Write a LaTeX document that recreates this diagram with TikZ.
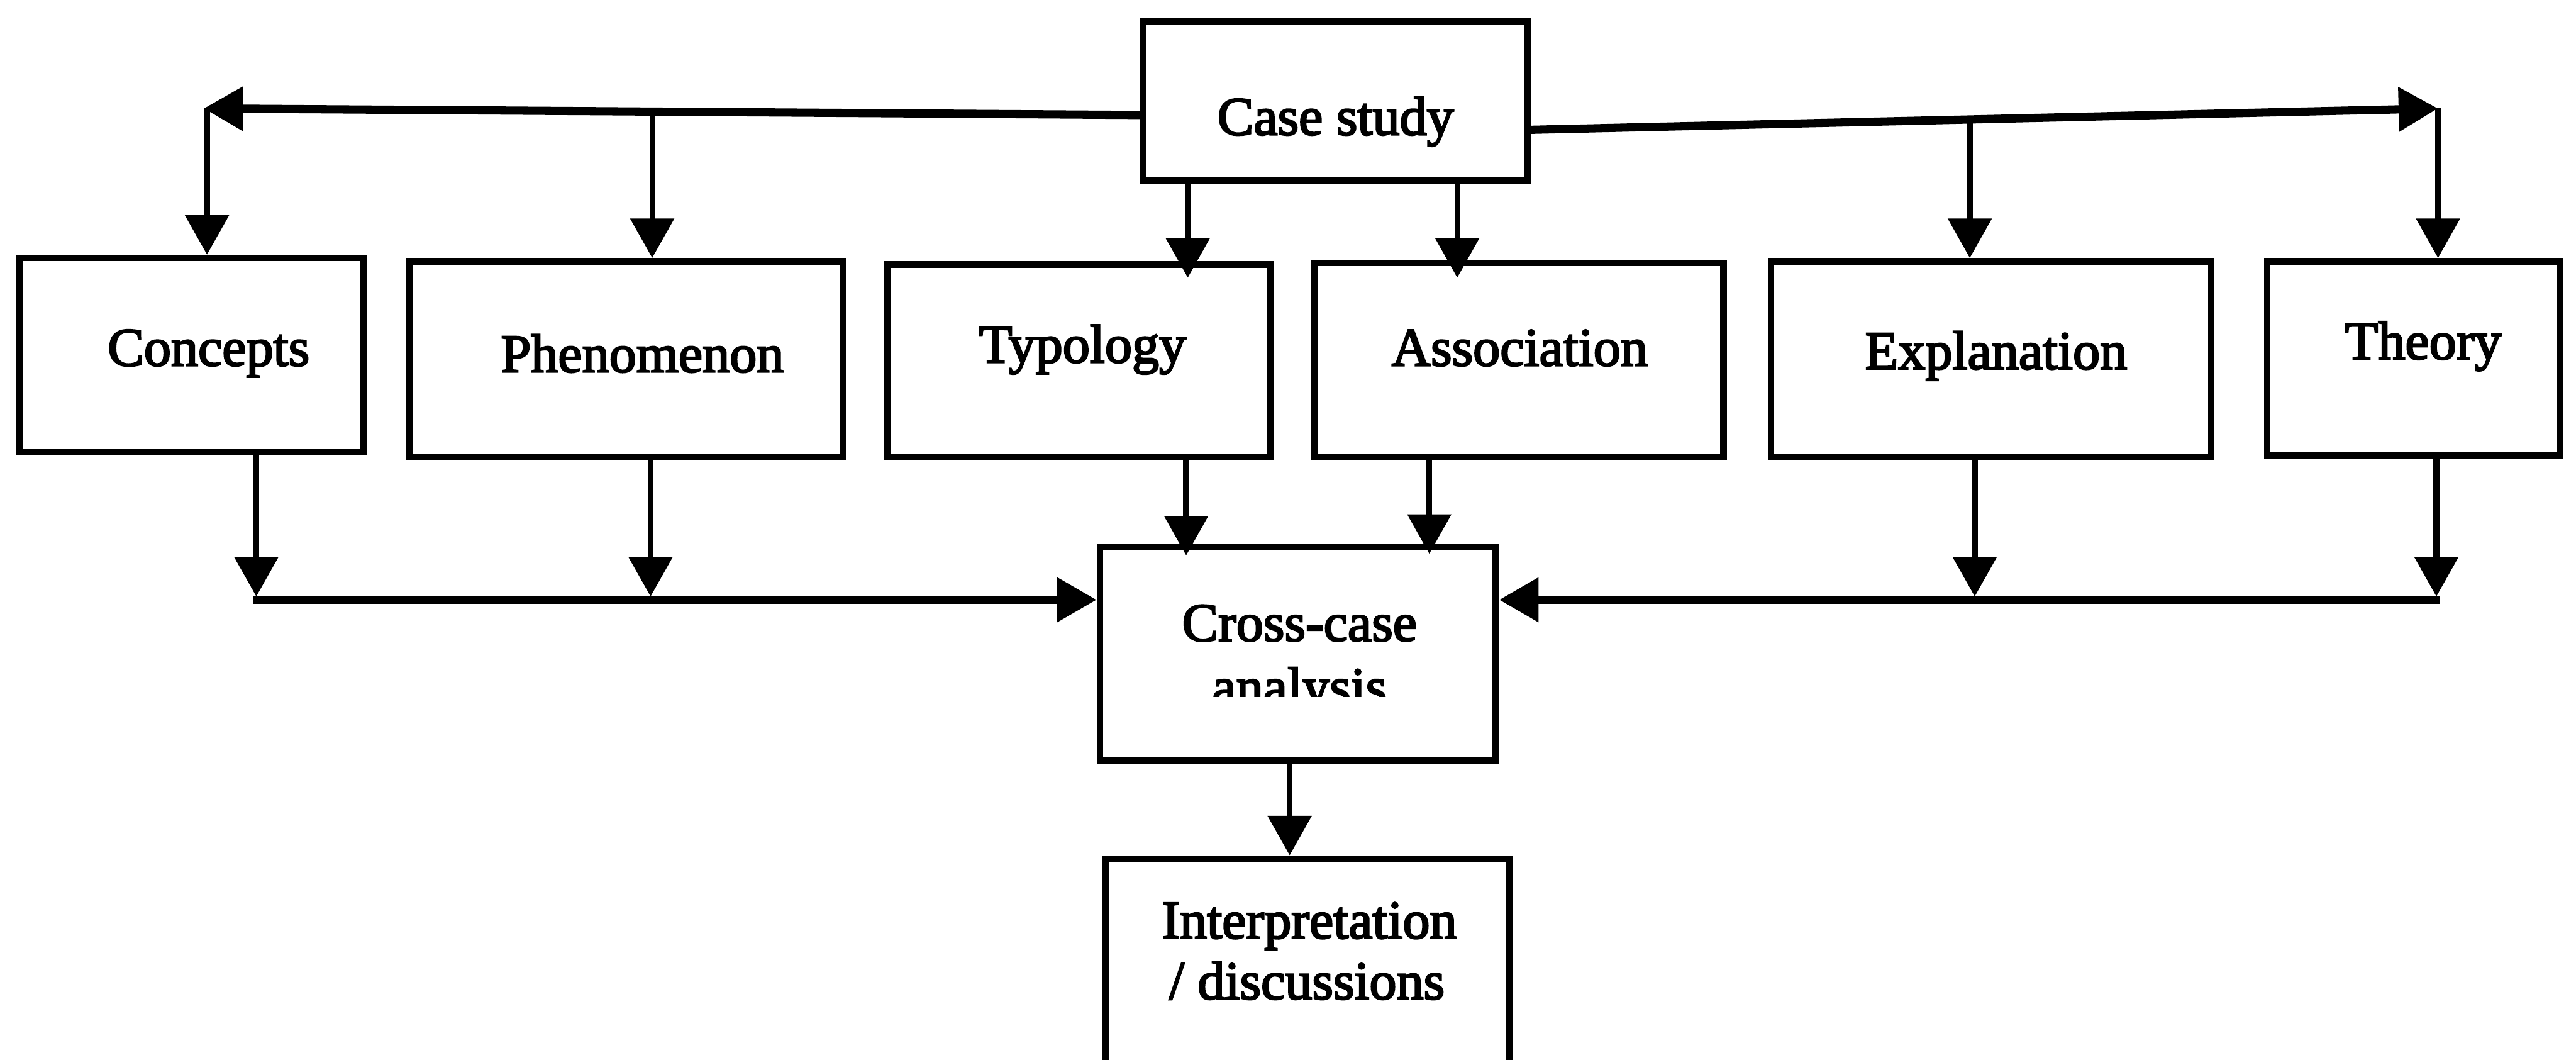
\documentclass[tikz,border=0pt]{standalone}
\usepackage{fontspec}
\setmainfont{Liberation Serif}
\newfontfamily\lblfont[FakeBold=3]{Liberation Serif}
\usetikzlibrary{arrows.meta}
\begin{document}
\begin{tikzpicture}[x=1pt,y=-1pt,
  box/.style={draw, line width=4pt, inner sep=0pt},
  lbl/.style={inner sep=0pt, anchor=base, font=\lblfont\fontsize{33}{39}\selectfont},
  feed/.style={line width=5pt, -{Triangle[length=24pt,width=26pt]}},
  drop/.style={line width=3.5pt, -{Triangle[length=24pt,width=26pt]}}]
\path[use as bounding box] (0,0) rectangle (1568,645);
\clip (0,0) rectangle (1568,645);

% boxes
\node[box, minimum width=234pt, minimum height=97pt]  (case)     at (813,61.5)  {};
\node[box, minimum width=209pt, minimum height=118pt] (concepts) at (116.5,216) {};
\node[box, minimum width=264pt, minimum height=119pt] (phenom)   at (381,218.5) {};
\node[box, minimum width=233pt, minimum height=117pt] (typology) at (656.5,219.5) {};
\node[box, minimum width=249pt, minimum height=118pt] (assoc)    at (924.5,219) {};
\node[box, minimum width=268pt, minimum height=119pt] (explan)   at (1212,218.5) {};
\node[box, minimum width=178pt, minimum height=118pt] (theory)   at (1469,218) {};
\node[box, minimum width=241pt, minimum height=130pt] (cross)    at (790,398) {};
\node[box, minimum width=246pt, minimum height=196pt] (interp)   at (796,620.5) {};

% labels
\node[lbl] (tcase)     at (813,82)     {Case study};
\node[lbl] (tconcepts) at (127,222.5)  {Concepts};
\node[lbl] (tphenom)   at (391,226.4)  {Phenomenon};
\node[lbl] (ttypology) at (659,220.6)  {Typology};
\node[lbl] (tassoc)    at (925,222.5)  {Association};
\node[lbl] (texplan)   at (1215,224.5) {Explanation};
\node[lbl] (ttheory)   at (1475,218.6) {Theory};
\node[lbl] (tcross)    at (791,390)    {Cross-case};
\begin{scope}
  \clip (600,395) rectangle (1000,424);
  \node[lbl] (tanalysis) at (791,429) {analysis};
\end{scope}
\node[lbl] (tinterp)   at (797,571)    {Interpretation};
\node[lbl] (tdisc)     at (795.5,608)  {/ discussions};

% distribution from the case study
\coordinate (lj)   at (case.west |- 0,70);
\coordinate (lend) at (124,66);
\coordinate (rj)   at (case.east |- 0,79);
\coordinate (rend) at (1484,66);
\draw[feed] (lj) -- (lend);
\draw[feed] (rj) -- (rend);

\coordinate (k1) at (126,66);
\coordinate (k2) at (397,67.9);
\coordinate (k3) at (1199,72.7);
\draw[drop] (k1) -- (k1 |- concepts.north);
\draw[drop] (k2) -- (k2 |- phenom.north);
\draw[drop] (k3) -- (k3 |- explan.north);
\draw[drop] (rend) -- (rend |- theory.north);

\coordinate (ty) at (723,169);
\coordinate (as) at (887,169);
\draw[drop] (case.south -| ty) -- (ty);
\draw[drop] (case.south -| as) -- (as);

% collection into the cross-case analysis
\coordinate (m1) at (156,363);
\coordinate (m2) at (396,363);
\coordinate (m3) at (1202,363);
\coordinate (m4) at (1483,363);
\draw[drop] (concepts.south -| m1) -- (m1);
\draw[drop] (phenom.south -| m2) -- (m2);
\draw[drop] (explan.south -| m3) -- (m3);
\draw[drop] (theory.south -| m4) -- (m4);

\coordinate (r1) at (154,365);
\coordinate (r4) at (1485,365);
\draw[feed] (r1) -- (cross.west |- r1);
\draw[feed] (r4) -- (cross.east |- r4);

\coordinate (tc) at (722,338);
\coordinate (ac) at (870,337);
\draw[drop] (typology.south -| tc) -- (tc);
\draw[drop] (assoc.south -| ac) -- (ac);

\draw[drop] (cross.south -| 785,0) -- (interp.north -| 785,0);
\end{tikzpicture}
\end{document}
